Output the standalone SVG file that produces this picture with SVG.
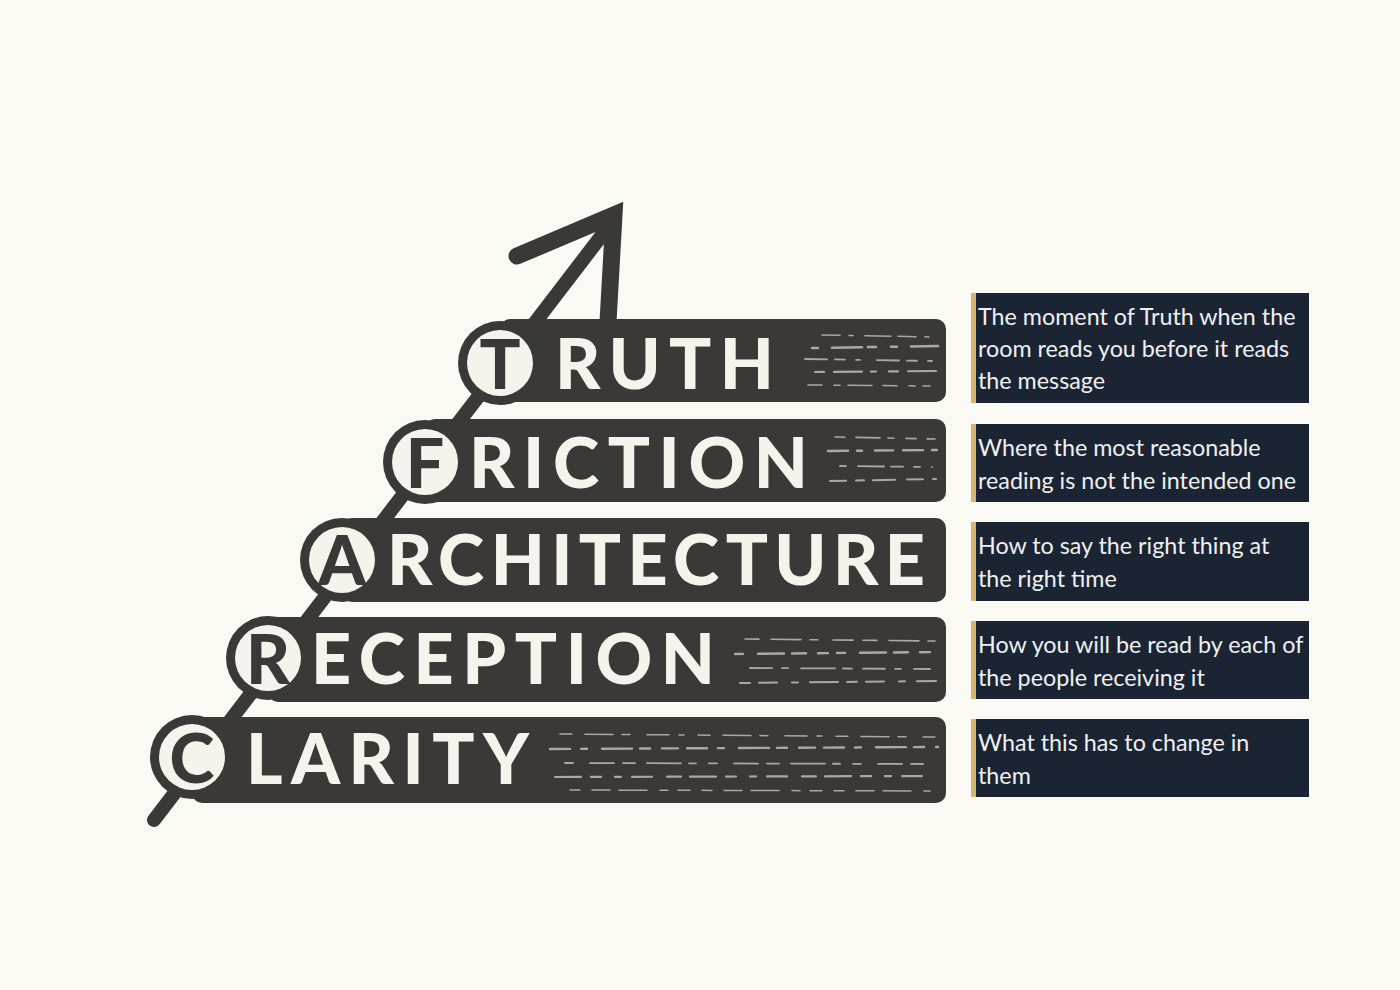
<svg xmlns="http://www.w3.org/2000/svg" width="1400" height="990" viewBox="0 0 1400 990">
  <defs>
    <style>
      .bar { fill: #3a3937; }
      .ring { fill: #3a3937; }
      .disk { fill: #f6f3ec; }
      .big { font-family: Lato, "Liberation Sans", sans-serif; font-weight: 900; font-size: 70px; fill: #f6f3ec; }
      .ini { font-family: Lato, "Liberation Sans", sans-serif; font-weight: 900; font-size: 68px; fill: #3a3937; text-anchor: middle; }
      .streak { stroke: #f6f3ec; fill: none; opacity: 0.6; stroke-linecap: round; }
      .panel { fill: #1b2433; }
      .gold { fill: #d8b46c; }
      .desc { font-family: Lato, "Liberation Sans", sans-serif; font-size: 23.3px; fill: #eef0f2; }
    </style>
  </defs>
  <rect width="1400" height="990" fill="#fbf9f4"/>

  <g id="connectors">
    <line x1="154" y1="820" x2="612" y2="222" stroke="#3a3937" stroke-width="14" stroke-linecap="round"/>
    <polyline points="517,256 614,215 608,322" fill="none" stroke="#3a3937" stroke-width="17" stroke-linecap="round" stroke-linejoin="miter"/>
  </g>

  <g id="node-truth">
    <rect class="bar" x="500" y="319" width="446" height="83" rx="10"/>
    <g class="streak">
      <path d="M822 335 L935 337" stroke-width="1.5" stroke-dasharray="18 9 4 12 26 7"/>
      <path d="M812 348 L938 346" stroke-width="2.5" stroke-dasharray="6 14 30 6 8 15"/>
      <path d="M805 359 L932 361" stroke-width="1.8" stroke-dasharray="22 8 10 11 4 17"/>
      <path d="M815 372 L936 371" stroke-width="2.2" stroke-dasharray="9 10 28 9 5 13"/>
      <path d="M808 385 L930 386" stroke-width="1.5" stroke-dasharray="14 12 6 8 24 11"/>
    </g>
    <circle class="ring" cx="500" cy="363" r="42"/>
    <circle class="disk" cx="500" cy="363" r="33"/>
    <text class="ini" x="500" y="389">T</text>
    <text class="big" x="555" y="389" textLength="219" lengthAdjust="spacing">RUTH</text>
  </g>

  <g id="node-friction">
    <rect class="bar" x="425" y="419" width="521" height="83" rx="10"/>
    <g class="streak">
      <path d="M835 437 L935 439" stroke-width="1.6" stroke-dasharray="10 11 24 8 6 12"/>
      <path d="M828 451 L938 450" stroke-width="2.4" stroke-dasharray="20 9 5 13 18 10"/>
      <path d="M840 466 L932 467" stroke-width="1.8" stroke-dasharray="6 12 26 7 12 11"/>
      <path d="M830 481 L936 479" stroke-width="2" stroke-dasharray="16 10 8 9 22 12"/>
    </g>
    <circle class="ring" cx="425" cy="462" r="42"/>
    <circle class="disk" cx="425" cy="462" r="33"/>
    <text class="ini" x="425" y="488">F</text>
    <text class="big" x="469" y="488" textLength="339" lengthAdjust="spacing">RICTION</text>
  </g>

  <g id="node-architecture">
    <rect class="bar" x="342" y="518" width="604" height="84" rx="10"/>
    <circle class="ring" cx="342" cy="560" r="42"/>
    <circle class="disk" cx="342" cy="560" r="33"/>
    <text class="ini" x="342" y="585">A</text>
    <text class="big" x="387" y="585" textLength="538" lengthAdjust="spacing">RCHITECTURE</text>
  </g>

  <g id="node-reception">
    <rect class="bar" x="268" y="617" width="678" height="85" rx="10"/>
    <g class="streak">
      <path d="M745 639 L935 641" stroke-width="1.6" stroke-dasharray="14 12 30 9 8 15 20 10"/>
      <path d="M735 654 L938 652" stroke-width="2.4" stroke-dasharray="8 15 26 8 14 12 10 9"/>
      <path d="M750 668 L930 669" stroke-width="1.8" stroke-dasharray="22 10 6 13 34 8 9 11"/>
      <path d="M740 683 L936 681" stroke-width="2" stroke-dasharray="10 9 18 15 6 12 28 9"/>
    </g>
    <circle class="ring" cx="268" cy="658" r="42"/>
    <circle class="disk" cx="268" cy="658" r="33"/>
    <text class="ini" x="268" y="684">R</text>
    <text class="big" x="311" y="684" textLength="404" lengthAdjust="spacing">ECEPTION</text>
  </g>

  <g id="node-clarity">
    <rect class="bar" x="192" y="717" width="754" height="86" rx="10"/>
    <g class="streak">
      <path d="M560 734 L935 737" stroke-width="1.5" stroke-dasharray="12 13 28 9 8 17 22 10 5 14"/>
      <path d="M550 749 L938 747" stroke-width="2.4" stroke-dasharray="20 11 6 15 30 8 10 12 16 9"/>
      <path d="M565 763 L932 764" stroke-width="1.8" stroke-dasharray="8 17 24 9 12 12 34 8 7 13"/>
      <path d="M555 777 L936 776" stroke-width="2.2" stroke-dasharray="26 10 10 14 6 11 20 15 14 9"/>
      <path d="M570 790 L930 791" stroke-width="1.5" stroke-dasharray="10 12 18 9 28 13 8 10 12 12"/>
    </g>
    <circle class="ring" cx="192" cy="757" r="42"/>
    <circle class="disk" cx="192" cy="757" r="33"/>
    <text class="ini" x="192" y="783">C</text>
    <text class="big" x="246" y="784" textLength="283" lengthAdjust="spacing">LARITY</text>
  </g>

  <g id="desc-truth">
    <rect class="panel" x="971" y="293" width="338" height="110"/>
    <rect class="gold" x="971" y="293" width="5" height="110"/>
    <text class="desc" x="978" y="325">The moment of Truth when the</text>
    <text class="desc" x="978" y="357">room reads you before it reads</text>
    <text class="desc" x="978" y="389">the message</text>
  </g>
  <g id="desc-friction">
    <rect class="panel" x="971" y="424" width="338" height="78"/>
    <rect class="gold" x="971" y="424" width="5" height="78"/>
    <text class="desc" x="978" y="456">Where the most reasonable</text>
    <text class="desc" x="978" y="489">reading is not the intended one</text>
  </g>
  <g id="desc-architecture">
    <rect class="panel" x="971" y="522" width="338" height="79"/>
    <rect class="gold" x="971" y="522" width="5" height="79"/>
    <text class="desc" x="978" y="554">How to say the right thing at</text>
    <text class="desc" x="978" y="587">the right time</text>
  </g>
  <g id="desc-reception">
    <rect class="panel" x="971" y="621" width="338" height="78"/>
    <rect class="gold" x="971" y="621" width="5" height="78"/>
    <text class="desc" x="978" y="653">How you will be read by each of</text>
    <text class="desc" x="978" y="686">the people receiving it</text>
  </g>
  <g id="desc-clarity">
    <rect class="panel" x="971" y="719" width="338" height="78"/>
    <rect class="gold" x="971" y="719" width="5" height="78"/>
    <text class="desc" x="978" y="751">What this has to change in</text>
    <text class="desc" x="978" y="784">them</text>
  </g>
</svg>
